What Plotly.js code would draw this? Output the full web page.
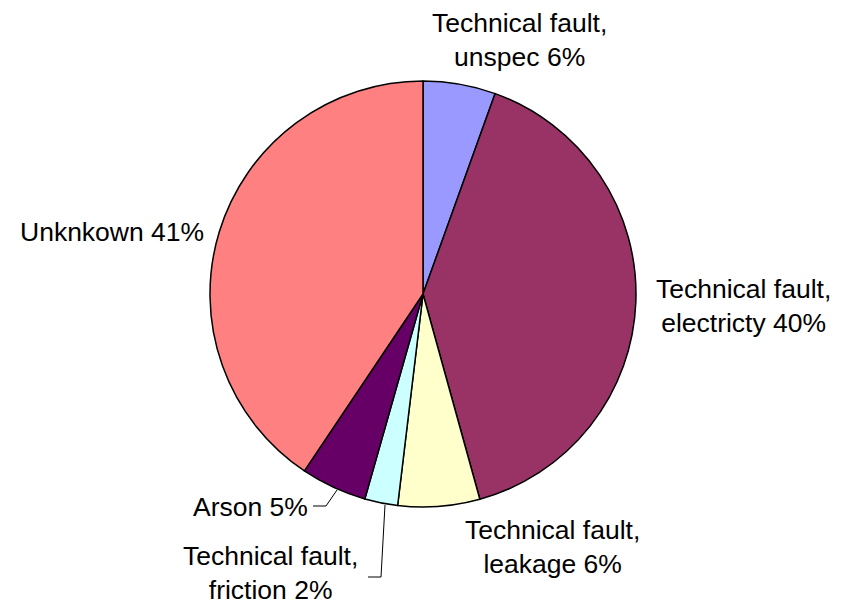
<!DOCTYPE html>
<html>
<head>
<meta charset="utf-8">
<script src="https://cdn.plot.ly/plotly-3.0.1.min.js"></script>
<style>html,body{margin:0;padding:0;background:#fff;}#chart{width:848px;height:609px;}</style>
</head>
<body>
<div id="chart"></div>
<script>
const categories = ["Technical fault, unspec", "Technical fault, electricty", "Technical fault, leakage", "Technical fault, friction", "Arson", "Unknkown"];
const values = [5.5, 40.2, 6.2, 2.5, 5.0, 40.6];
const labelTexts = ["Technical fault,<br>unspec 6%", "Technical fault,<br>electricty 40%", "Technical fault,<br>leakage 6%", "Technical fault,<br>friction 2%", "Arson 5%", "Unknkown 41%"];
const colors = ["#9999FF", "#993366", "#FFFFCC", "#CCFFFF", "#660066", "#FF8080"];

const W = 848, H = 609;
const px = x => x / W;
const py = y => 1 - y / H;

// label positions (pixel centres) – layout only
const labelPos = [[519, 40], [743, 306], [552, 547], [270, 573], [251, 507], [112, 232]];
const fontSpec = {family: "Liberation Sans, Arial, sans-serif", size: 26.5, color: "#000"};

const annotations = labelTexts.map((t, i) => ({
  xref: "paper", yref: "paper",
  x: px(labelPos[i][0]), y: py(labelPos[i][1]),
  xanchor: "center", yanchor: "middle",
  text: t, showarrow: false, font: fontSpec, align: "center"
}));

const shapes = [
  {type: "path", xref: "paper", yref: "paper",
   path: `M ${px(313)} ${py(506)} L ${px(326)} ${py(506)} L ${px(337)} ${py(490)}`,
   line: {color: "#000", width: 1}},
  {type: "path", xref: "paper", yref: "paper",
   path: `M ${px(368)} ${py(577)} L ${px(381)} ${py(577)} L ${px(385)} ${py(505)}`,
   line: {color: "#000", width: 1}}
];

const trace = {
  type: "pie",
  labels: categories,
  values: values,
  sort: false,
  direction: "clockwise",
  rotation: 0,
  textinfo: "none",
  hoverinfo: "label+percent",
  marker: {colors: colors, line: {color: "#000", width: 1.5}},
  domain: {x: [px(423 - 213), px(423 + 213)], y: [py(507), py(81)]},
  showlegend: false
};

Plotly.newPlot("chart", [trace], {
  width: W, height: H,
  margin: {l: 0, r: 0, t: 0, b: 0},
  paper_bgcolor: "#fff",
  showlegend: false,
  annotations: annotations,
  shapes: shapes
}, {displayModeBar: false, staticPlot: true});
</script>
</body>
</html>
